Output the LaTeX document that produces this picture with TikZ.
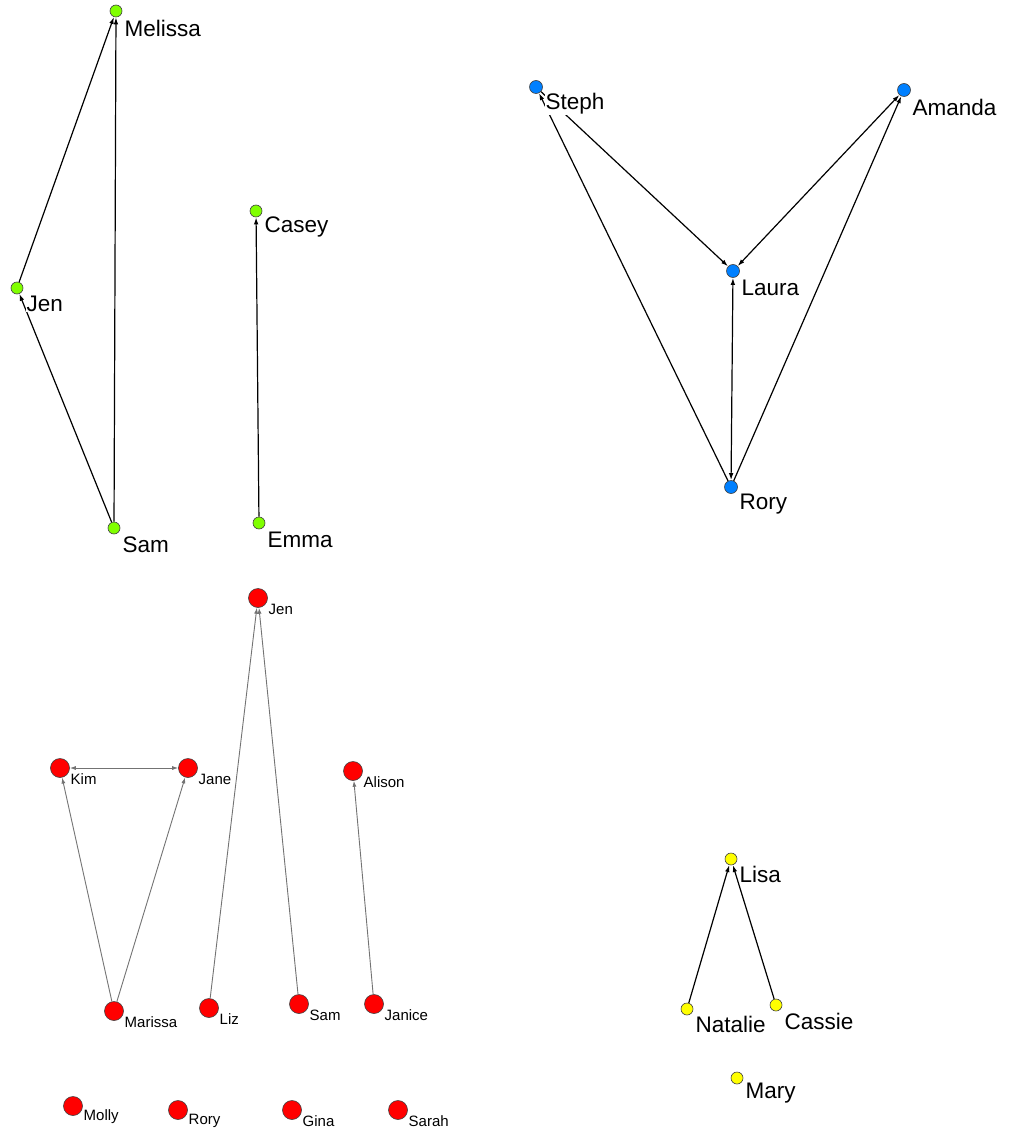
\documentclass[tikz,border=0pt]{standalone}
\usepackage{fontspec}
\setmainfont{Liberation Sans}
\usetikzlibrary{arrows.meta}
\begin{document}
\begin{tikzpicture}[x=1pt,y=-1pt,
  vtx/.style={circle,draw=black!75,line width=0.6pt,inner sep=0pt,minimum size=#1},
  gv/.style={vtx=12pt,fill={rgb,255:red,128;green,255;blue,0}},
  bv/.style={vtx=13pt,fill={rgb,255:red,0;green,128;blue,255}},
  yv/.style={vtx=12pt,fill={rgb,255:red,255;green,255;blue,0}},
  rv/.style={vtx=19pt,fill={rgb,255:red,255;green,0;blue,0}},
  big/.style={anchor=west,font=\fontsize{22.5}{22.5}\selectfont,inner sep=0.5pt,fill=white},
  sml/.style={anchor=west,font=\fontsize{15}{15}\selectfont,inner sep=0.5pt,fill=white},
  edge/.style={line width=1.2pt,-{Latex[length=7pt,width=4.5pt]}},
  bedge/.style={line width=1.2pt,{Latex[length=7pt,width=4.5pt]}-{Latex[length=7pt,width=4.5pt]}},
  redge/.style={line width=0.9pt,draw=black!55,-{Latex[length=6pt,width=4pt]}},
  rbedge/.style={line width=0.9pt,draw=black!55,{Latex[length=6pt,width=4pt]}-{Latex[length=6pt,width=4pt]}}
]
\useasboundingbox[fill=white] (0,0) rectangle (1011,1131);
% green
\node[gv] (gMel) at (116,11) {};
\node[gv] (gJen) at (17,288) {};
\node[gv] (gSam) at (114,528) {};
\node[gv] (gCas) at (256,211) {};
\node[gv] (gEmm) at (259,523) {};
% blue
\node[bv] (bSte) at (536,87) {};
\node[bv] (bAma) at (904,90) {};
\node[bv] (bLau) at (733,271) {};
\node[bv] (bRor) at (731,487) {};
% red
\node[rv] (rJen) at (258,598) {};
\node[rv] (rKim) at (60,768) {};
\node[rv] (rJan) at (188,768) {};
\node[rv] (rAli) at (353,771) {};
\node[rv] (rMar) at (114,1011) {};
\node[rv] (rLiz) at (209,1008) {};
\node[rv] (rSam) at (299,1004) {};
\node[rv] (rJni) at (374,1004) {};
\node[rv] (rMol) at (73,1106) {};
\node[rv] (rRor) at (178,1110) {};
\node[rv] (rGin) at (292,1110) {};
\node[rv] (rSar) at (398,1110) {};
% yellow
\node[yv] (yLis) at (731,859) {};
\node[yv] (yNat) at (687,1009) {};
\node[yv] (yCas) at (776,1005) {};
\node[yv] (yMar) at (737,1078) {};
% edges
\draw[edge] (gJen) -- (gMel);
\draw[edge] (gSam) -- (gMel);
\draw[edge] (gSam) -- (gJen);
\draw[edge] (gEmm) -- (gCas);
\draw[edge] (bSte) -- (bLau);
\draw[bedge] (bLau) -- (bAma);
\draw[bedge] (bLau) -- (bRor);
\draw[edge] (bRor) -- (bSte);
\draw[edge] (bRor) -- (bAma);
\draw[rbedge] (rKim) -- (rJan);
\draw[redge] (rMar) -- (rKim);
\draw[redge] (rMar) -- (rJan);
\draw[redge] (rLiz) -- (rJen);
\draw[redge] (rSam) -- (rJen);
\draw[redge] (rJni) -- (rAli);
\draw[edge] (yNat) -- (yLis);
\draw[edge] (yCas) -- (yLis);
% labels
\node[big] (lgMel) at (124,28) {Melissa};
\node[big] (lgJen) at (26,304) {Jen};
\node[big] (lgSam) at (122,545) {Sam};
\node[big] (lgCas) at (264,227) {Casey};
\node[big] (lgEmm) at (267,540) {Emma};
\node[big] (lbSte) at (545,104) {Steph};
\node[big] (lbAma) at (912,107) {Amanda};
\node[big] (lbLau) at (741,288) {Laura};
\node[big] (lbRor) at (739,504) {Rory};
\node[sml] (lrJen) at (268,609) {Jen};
\node[sml] (lrKim) at (70,779) {Kim};
\node[sml] (lrJan) at (198,779) {Jane};
\node[sml] (lrAli) at (363,782) {Alison};
\node[sml] (lrMar) at (124,1022) {Marissa};
\node[sml] (lrLiz) at (219,1019) {Liz};
\node[sml] (lrSam) at (309,1015) {Sam};
\node[sml] (lrJni) at (384,1015) {Janice};
\node[sml] (lrMol) at (83,1117) {Molly};
\node[sml] (lrRor) at (188,1121) {Rory};
\node[sml] (lrGin) at (302,1121) {Gina};
\node[sml] (lrSar) at (408,1121) {Sarah};
\node[big] (lyLis) at (739,874) {Lisa};
\node[big] (lyNat) at (695,1024) {Natalie};
\node[big] (lyCas) at (784,1021) {Cassie};
\node[big] (lyMar) at (745,1093) {Mary};
\end{tikzpicture}
\end{document}
